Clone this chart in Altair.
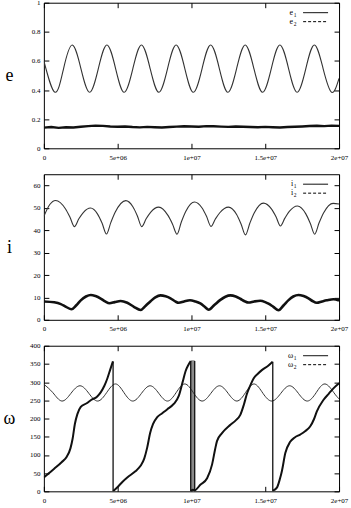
import altair as alt
import pandas as pd

# ---------------- data (x values in units of 1e6) ----------------
X_TICKS = [0, 5, 10, 15, 20]
X_TICK_LABELS = ["0", "5e+06", "1e+07", "1.5e+07", "2e+07"]
E_TICKS = [0, 0.2, 0.4, 0.6, 0.8, 1]
I_TICKS = [0, 10, 20, 30, 40, 50, 60]
W_TICKS = [0, 50, 100, 150, 200, 250, 300, 350, 400]

e1_x = [0, 0.75, 1.335, 1.92, 2.51, 3.10, 3.69, 4.27, 4.86, 5.44, 6.03, 6.61,
        7.20, 7.79, 8.38, 8.96, 9.55, 10.13, 10.72, 11.30, 11.89, 12.47, 13.06,
        13.64, 14.23, 14.82, 15.41, 15.99, 16.58, 17.16, 17.75, 18.33, 18.92,
        19.50, 20.0]
e1_y = [0.60, 0.385, 0.548, 0.71, 0.548, 0.385, 0.548, 0.71, 0.548, 0.385, 0.548, 0.71,
        0.548, 0.385, 0.548, 0.71, 0.548, 0.385, 0.548, 0.71, 0.548, 0.385, 0.548,
        0.71, 0.548, 0.385, 0.548, 0.71, 0.548, 0.385, 0.548, 0.71, 0.548,
        0.385, 0.48]

e2_x = [0, 0.5, 1, 1.5, 2, 2.5, 3, 3.5, 4, 4.5, 5, 5.5, 6, 6.5, 7, 7.5, 8, 8.5,
        9, 9.5, 10, 10.5, 11, 11.5, 12, 12.5, 13, 13.5, 14, 14.5, 15, 15.5, 16,
        16.5, 17, 17.5, 18, 18.5, 19, 19.5, 20]
e2_y = [0.142, 0.146, 0.140, 0.145, 0.143, 0.148, 0.152, 0.156, 0.154, 0.150,
        0.148, 0.150, 0.146, 0.144, 0.147, 0.145, 0.143, 0.146, 0.149, 0.151,
        0.150, 0.148, 0.152, 0.151, 0.149, 0.147, 0.150, 0.148, 0.146, 0.145,
        0.147, 0.145, 0.143, 0.146, 0.148, 0.150, 0.153, 0.155, 0.152, 0.156,
        0.154]

i1_x = [0, 0.4, 0.79, 1.47, 1.77, 2.07, 2.37, 2.67, 3.16, 3.64, 3.94, 4.24,
        4.54, 4.84, 5.55, 6.03, 6.33, 6.63, 6.93, 7.23, 7.78, 8.42, 8.72, 9.02,
        9.32, 9.62, 10.21, 10.72, 11.02, 11.32, 11.62, 11.92, 12.51, 13.06,
        13.36, 13.66, 13.96, 14.26, 14.88, 15.43, 15.73, 16.03, 16.33, 16.63,
        17.18, 17.75, 18.05, 18.35, 18.65, 18.95, 19.6, 20.0]
i1_y = [46.2, 51.5, 53.3, 49.5, 45.8, 41.6, 45.1, 47.9, 49.9, 47.2, 43.2, 38.3,
        43.5, 48.1, 53.2, 50.5, 46.5, 41.6, 45.1, 48.0, 50.3, 46.5, 42.7, 38.2,
        43.8, 48.5, 52.6, 49.9, 46.2, 41.7, 45.0, 47.8, 50.3, 47.0,
        42.8, 37.9, 43.2, 47.8, 52.1, 49.4, 46.0, 41.9, 45.4, 48.4,
        50.8, 47.3, 43.1, 38.2, 43.3, 47.7, 52.0, 51.7]

i2_x = [0, 0.7, 1.15, 1.5, 1.87, 2.2, 2.5, 2.85, 3.18, 3.5, 3.85, 4.15, 4.45,
        4.8, 5.2, 5.65, 6.1, 6.55, 6.9, 7.23, 7.55, 7.9, 8.25, 8.58, 8.9, 9.14,
        9.5, 9.9, 10.25, 10.6, 10.9, 11.17, 11.55, 11.96, 12.3, 12.64, 13.0,
        13.31, 13.6, 13.87, 14.25, 14.66, 15.0, 15.22, 15.55, 15.9, 16.25,
        16.58, 16.9, 17.25, 17.6, 17.93, 18.2, 18.49, 18.85, 19.17, 19.62, 20.0]
i2_y = [8.2, 7.8, 7.0, 5.8, 4.7, 6.5, 8.7, 10.4, 11.1, 10.6, 9.5, 8.2, 7.4,
        7.9, 8.4, 7.6, 5.8, 4.4, 6.3, 8.3, 10.0, 10.9, 10.5, 9.6, 8.2, 7.6,
        8.2, 8.7, 8.2, 7.3, 5.8, 4.5, 6.6, 8.9, 10.3, 10.9, 10.4,
        9.4, 8.3, 7.7, 8.2, 8.5, 7.9, 7.2, 5.8, 4.3, 6.5,
        8.8, 10.4, 11.1, 10.6, 9.6, 8.4, 7.6, 8.2, 8.7, 9.2, 8.6]

w1_x = [0, 0.61, 1.22, 1.83, 2.45, 3.05, 3.65, 4.25, 4.85, 5.43, 6.02, 6.61,
        7.2, 7.79, 8.38, 8.96, 9.55, 10.13, 10.72, 11.31, 11.9, 12.49, 13.08,
        13.66, 14.25, 14.85, 15.45, 16.05, 16.65, 17.25, 17.85, 18.45, 19.05,
        19.65, 20.0]
w1_y = [294, 271, 248, 269, 290, 269, 248, 271, 295, 271, 248, 269,
        290, 269, 248, 271, 295, 271, 248, 269, 290, 269, 248,
        271, 295, 269, 248, 269, 290, 269, 248, 271, 295,
        271, 254]

# omega_2 : four circulation cycles (wrapping 360 -> 0)
w2_c1_x = [0, 0.35, 0.7, 1.2, 1.55, 1.8, 1.95, 2.1, 2.27, 2.5, 2.9, 3.2, 3.6,
           3.85, 4.1, 4.3, 4.5, 4.68]
w2_c1_y = [38, 50, 62, 80, 95, 118, 145, 185, 212, 232, 242, 251, 260,
           272, 290, 310, 335, 357]
w2_c2_x = [4.70, 5.0, 5.3, 5.65, 6.2, 6.55, 6.8, 7.0, 7.2, 7.4, 7.68, 8.0,
           8.35, 8.8, 9.14, 9.4, 9.6, 9.8, 9.95]
w2_c2_y = [1, 12, 25, 38, 55, 70, 90, 120, 160, 185, 204, 214,
           225, 240, 262, 300, 330, 348, 358]
w2_c3_x = [9.96, 10.1, 10.22, 10.6, 11.06, 11.4, 11.6, 11.73, 12.07, 12.64,
           13.0, 13.31, 13.55, 13.76, 14.0, 14.21, 14.5, 14.77, 15.2, 15.5]
w2_c3_y = [1, 4, 3, 18, 36, 74, 115, 138, 160, 183,
           195, 210, 238, 268, 292, 310, 323, 333, 345, 356]
w2_c4_x = [15.52, 15.79, 16.0, 16.13, 16.36, 16.69, 17.0, 17.37, 17.7, 18.04,
           18.3, 18.49, 18.94, 19.3, 19.62, 20.0]
w2_c4_y = [2, 10, 35, 56, 105, 136, 148, 156, 165, 178,
           198, 219, 251, 268, 283, 297]
w2_drop_x = [4.69, 9.95, 10.22, 15.51]
w2_drop_top = [357, 358, 358, 356]
# region of rapid wrap-around crossings near t = 1e7
w2_band_x = [9.95]
w2_band_x2 = [10.22]
w2_band_top = [360]

LEG_E = [("e", "1"), ("e", "2")]
LEG_I = [("i", "1"), ("i", "2")]
LEG_W = [("\u03c9", "1"), ("\u03c9", "2")]

# ---------------- styling ----------------
FONT = "Liberation Serif"
W = 296
H = 146
TICK = 5
THIN = "#333333"
THICK = "#111111"

label_expr = ("[" + ",".join("'%s'" % s for s in X_TICK_LABELS) + "]"
              + "[indexof([" + ",".join(str(v) for v in X_TICKS) + "], datum.value)]")


def xenc():
    return alt.X(
        "x:Q",
        scale=alt.Scale(domain=[0, 20], nice=False, zero=False),
        axis=alt.Axis(values=X_TICKS, labelExpr=label_expr, title=None,
                      ticks=False, domain=False, grid=True, gridColor="black",
                      gridWidth=1, gridOpacity=1,
                      gridDash=[TICK, H - 2 * TICK, TICK, 3000],
                      labelFont=FONT, labelFontSize=7, labelColor="black",
                      labelPadding=5, labelFlush=False),
    )


def yenc(title, dom, ticks):
    return alt.Y(
        "y:Q",
        scale=alt.Scale(domain=dom, nice=False, zero=False),
        axis=alt.Axis(values=ticks, format="~f", title=title, titleAngle=0,
                      titleFont=FONT, titleFontSize=18, titleFontWeight="normal",
                      titleColor="black", titleX=-35, titleY=H / 2,
                      titleAlign="center", titleBaseline="middle",
                      ticks=False, domain=False, grid=True, gridColor="black",
                      gridWidth=1, gridOpacity=1,
                      gridDash=[TICK, W - 2 * TICK, TICK, 3000],
                      labelFont=FONT, labelFontSize=7, labelColor="black",
                      labelPadding=4, labelFlush=False),
    )


def df(xs, ys, seg=0):
    return pd.DataFrame({"x": xs, "y": ys, "seg": [seg] * len(xs)})


def legend(labels):
    layers = []
    for k, (sym, sub) in enumerate(labels):
        yy = 10 + 9 * k
        d = pd.DataFrame({"t": [sym], "s": [sub]})
        t = alt.Chart(d).mark_text(
            font=FONT, fontSize=8, align="right", baseline="middle", color="black"
        ).encode(x=alt.value(250), y=alt.value(yy), text="t:N")
        s = alt.Chart(d).mark_text(
            font=FONT, fontSize=5.5, align="left", baseline="middle", color="black"
        ).encode(x=alt.value(250.5), y=alt.value(yy + 2), text="s:N")
        r = alt.Chart(d).mark_rule(
            color="black", strokeWidth=1, strokeDash=([1, 0] if k == 0 else [3, 2])
        ).encode(x=alt.value(260), x2=alt.value(285), y=alt.value(yy))
        layers += [t, s, r]
    return layers


def panel(lines, ytitle, dom, ticks):
    layers = []
    for data, color, width, interp, detail in lines:
        enc = dict(x=xenc(), y=yenc(ytitle, dom, ticks))
        if detail:
            enc["detail"] = "seg:N"
        layers.append(
            alt.Chart(data).mark_line(color=color, strokeWidth=width,
                                      interpolate=interp, clip=True).encode(**enc)
        )
    return layers


# panel e
pe = alt.layer(
    *panel([
        (df(e2_x, e2_y), THICK, 2.4, "linear", False),
        (df(e1_x, e1_y), THIN, 1.1, "natural", False),
    ], "e", [0, 1], E_TICKS),
    *legend(LEG_E),
).properties(width=W, height=H)

# panel i
pi = alt.layer(
    *panel([
        (df(i2_x, i2_y), THICK, 2.6, "monotone", False),
        (df(i1_x, i1_y), THIN, 1.1, "monotone", False),
    ], "i", [0, 65], I_TICKS),
    *legend(LEG_I),
).properties(width=W, height=H)

# panel omega
w2 = pd.concat([df(w2_c1_x, w2_c1_y, 1), df(w2_c2_x, w2_c2_y, 2),
                df(w2_c3_x, w2_c3_y, 3), df(w2_c4_x, w2_c4_y, 4)])
band = pd.DataFrame({"x": w2_band_x, "x2": w2_band_x2,
                     "y": [0] * len(w2_band_x), "y2": w2_band_top})
band_layer = alt.Chart(band).mark_rect(color="#8a8a8a").encode(
    x=xenc(), x2="x2:Q", y=yenc("\u03c9", [0, 400], W_TICKS), y2="y2:Q")
drops = pd.DataFrame({"x": w2_drop_x, "y": [0] * len(w2_drop_x), "y2": w2_drop_top})
drop_layer = alt.Chart(drops).mark_rule(color=THICK, strokeWidth=1.3).encode(
    x=xenc(), y=yenc("\u03c9", [0, 400], W_TICKS), y2="y2:Q")
pw = alt.layer(
    band_layer,
    *panel([
        (df(w1_x, w1_y), THIN, 1.0, "natural", False),
        (w2, THICK, 2.0, "monotone", True),
    ], "\u03c9", [0, 400], W_TICKS),
    drop_layer,
    *legend(LEG_W),
).properties(width=W, height=H)

chart = alt.vconcat(pe, pi, pw, spacing=26, bounds="flush").properties(
    padding={"left": 2, "top": -3, "right": 2, "bottom": 0},
    background="white",
).configure_view(stroke="black", strokeWidth=1)

chart.save("out.html", embed_options={"renderer": "svg", "actions": False})
